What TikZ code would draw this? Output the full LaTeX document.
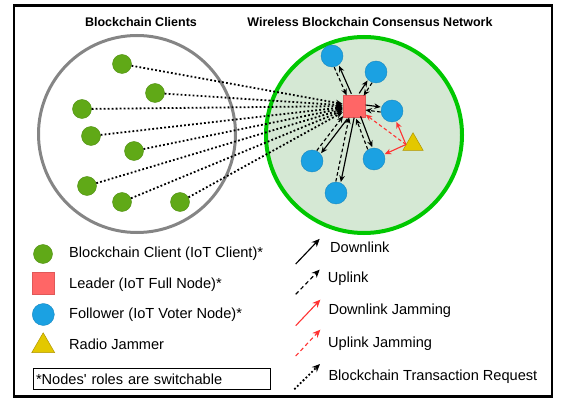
\documentclass[tikz,border=0pt]{standalone}
\usepackage{fontspec}
\setmainfont{Liberation Sans}
\usetikzlibrary{arrows.meta,calc,shapes.geometric}
\definecolor{clientgreen}{HTML}{60A917}
\definecolor{clientdark}{HTML}{4F8F12}
\definecolor{leaderred}{HTML}{FF6666}
\definecolor{leaderdark}{HTML}{E05858}
\definecolor{followerblue}{HTML}{1BA1E2}
\definecolor{followerdark}{HTML}{1888C0}
\definecolor{jamyellow}{HTML}{E3C800}
\definecolor{jamdark}{HTML}{B09500}
\definecolor{netfill}{HTML}{D5E8D4}
\definecolor{netgreen}{HTML}{00C800}
\definecolor{jamred}{HTML}{FF3333}
\definecolor{clgray}{HTML}{858585}
\newcommand\duplex[2]{%
  \draw[dl,transform canvas={shift={($(L)!#2!90:(#1)-(L)$)}}] (L) -- (#1);
  \draw[ul,transform canvas={shift={($(L)!#2!-90:(#1)-(L)$)}}] (#1) -- (L);
}
\begin{document}
\begin{tikzpicture}[x=1pt,y=-1pt,
  title/.style={font=\fontsize{12.5}{14}\selectfont\bfseries},
  lbl/.style={font=\fontsize{14.6}{17}\selectfont, anchor=west, inner sep=0pt},
  client/.style={circle, fill=clientgreen, draw=clientdark, line width=0.4pt, minimum size=19pt, inner sep=0pt},
  leader/.style={rectangle, fill=leaderred, draw=leaderdark, line width=0.5pt, minimum size=22pt, inner sep=0pt},
  follower/.style={circle, fill=followerblue, draw=followerdark, line width=0.4pt, minimum size=22pt, inner sep=0pt},
  jammer/.style={regular polygon, regular polygon sides=3, fill=jamyellow, draw=jamdark, line width=0.5pt, minimum size=23.5pt, inner sep=0pt},
  tip/.style={-{Stealth[length=6.5pt,width=5.5pt]}},
  dl/.style={tip, line width=1.15pt, shorten >=0.5pt},
  ul/.style={tip, line width=1.15pt, dash pattern=on 3.5pt off 2.5pt, shorten >=0.5pt},
  djam/.style={tip, draw=jamred, line width=1.1pt, shorten >=0.5pt},
  ujam/.style={tip, draw=jamred, line width=1.1pt, dash pattern=on 3.5pt off 2.5pt, shorten >=0.5pt},
  req/.style={-{Stealth[length=7pt,width=6pt]}, line width=1.8pt, dash pattern=on 1.8pt off 2.2pt},
  big/.style={-{Stealth[length=8pt,width=7pt]}},
]
\useasboundingbox (0,0) rectangle (561,403);
\node[draw, line width=2.5pt, minimum width=538pt, minimum height=391pt, inner sep=0pt] (frame) at (283,201) {};

\node[title] (t1) at (141,22) {Blockchain Clients};
\node[title] (t2) at (370,22) {Wireless Blockchain Consensus Network};

\node[circle, draw=clgray, line width=3pt, minimum size=197pt, inner sep=0pt] (cc) at (137,134) {};
\node[circle, draw=netgreen, fill=netfill, line width=4pt, minimum size=196pt, inner sep=0pt] (nc) at (364,135) {};

\node[client] (c1) at (122,64) {};
\node[client] (c2) at (155,93) {};
\node[client] (c3) at (82,109) {};
\node[client] (c4) at (91,136) {};
\node[client] (c5) at (134,151) {};
\node[client] (c6) at (87,186) {};
\node[client] (c7) at (122,202) {};
\node[client] (c8) at (180,202) {};

\node[leader] (L) at (354,106) {};
\node[follower] (f1) at (332,56) {};
\node[follower] (f2) at (376,72) {};
\node[follower] (f3) at (392,111) {};
\node[follower] (f4) at (374,159) {};
\node[follower] (f5) at (312,161) {};
\node[follower] (f6) at (336,193) {};
\node[jammer] (J) at (413,144.5) {};

\foreach \c in {c1,c2,c3,c4,c5,c6,c7,c8}
  \draw[req] (\c) -- (L);

\duplex{f1}{-2.5pt}
\duplex{f2}{2.5pt}
\duplex{f3}{2.5pt}
\duplex{f4}{2.5pt}
\duplex{f5}{2.5pt}
\duplex{f6}{2.5pt}

\draw[djam] (J.west) -- (f3);
\draw[djam] (J.west) -- (f4);
\draw[ujam] (J.west) -- (L);

% legend left
\node[client] (lg1) at (43,254) {};
\node[lbl] (lt1) at (69,254) {Blockchain Client (IoT Client)*};
\node[leader] (lg2) at (43.3,283) {};
\node[lbl] (lt2) at (69,285) {Leader (IoT Full Node)*};
\node[follower] (lg3) at (43.3,314.5) {};
\node[lbl] (lt3) at (69,315) {Follower (IoT Voter Node)*};
\node[jammer, minimum size=26.5pt] (lg4) at (43.2,346) {};
\node[lbl] (lt4) at (69,344) {Radio Jammer};
\node[draw, line width=1.3pt, text width=232pt, inner xsep=2.7pt, minimum height=21pt, align=left, font=\fontsize{14.6}{17}\selectfont] (note) at (152,379) {*Nodes\textquotesingle\ roles are switchable};

% legend right
\coordinate (a1s) at (295.7,264); \coordinate (a1e) at (320,238.5);
\coordinate (a2s) at (295.7,294.3); \coordinate (a2e) at (320,269.3);
\coordinate (a3s) at (295.7,325.7); \coordinate (a3e) at (320.7,299.3);
\coordinate (a4s) at (295.7,356); \coordinate (a4e) at (320.7,329.3);
\coordinate (a5s) at (294.3,389.3); \coordinate (a5e) at (320,364);
\draw[dl,big] (a1s) -- (a1e);
\draw[ul,big,dash pattern=on 4pt off 3pt] (a2s) -- (a2e);
\draw[djam,big] (a3s) -- (a3e);
\draw[ujam,big,dash pattern=on 4pt off 3pt] (a4s) -- (a4e);
\draw[req,big] (a5s) -- (a5e);
\node[lbl] (rt1) at (330,247.5) {Downlink};
\node[lbl] (rt2) at (327.7,278.5) {Uplink};
\node[lbl] (rt3) at (328.3,311) {Downlink Jamming};
\node[lbl] (rt4) at (328,344) {Uplink Jamming};
\node[lbl] (rt5) at (328.3,377) {Blockchain Transaction Request};
\end{tikzpicture}
\end{document}
